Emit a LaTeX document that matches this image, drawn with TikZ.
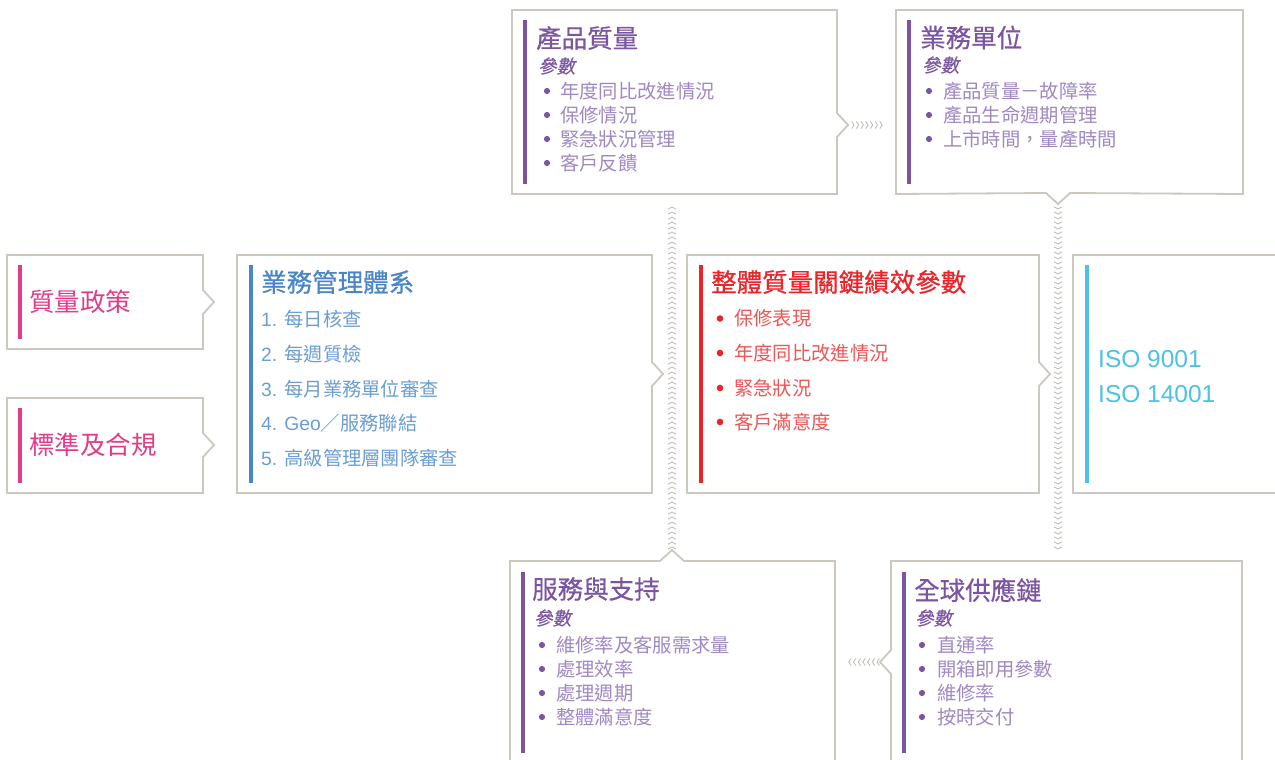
\documentclass[tikz,border=0pt]{standalone}
\usepackage{fontspec}
\setmainfont{Noto Sans CJK TC}
\newfontfamily\lat{Liberation Sans}
\newfontfamily\cjkmed[FakeBold=0.6]{Noto Sans CJK TC}
\newfontfamily\cjkit[FakeSlant=0.2,FakeBold=0.6]{Noto Sans CJK TC}
\usetikzlibrary{calc,decorations.markings}
\definecolor{bordc}{HTML}{CCC8C0}
\definecolor{chevc}{HTML}{BDB9B1}
\definecolor{purp}{HTML}{7C55A2}
\definecolor{purpl}{HTML}{A089C2}
\definecolor{blu}{HTML}{4985C7}
\definecolor{blul}{HTML}{6B9ED3}
\definecolor{rd}{HTML}{EC2327}
\definecolor{rdl}{HTML}{EF5656}
\definecolor{pnk}{HTML}{E03C88}
\definecolor{cyn}{HTML}{4CC2E2}
\tikzset{
  boxn/.style={inner sep=0pt, outer sep=0pt},
  frame/.style={draw=bordc, line width=1.8pt, fill=white, line join=miter},
  ttl/.style={anchor=west, inner sep=0pt, font=\fontsize{25.5}{27}\selectfont\cjkmed},
  sttl/.style={anchor=west, inner sep=0pt, font=\fontsize{25.5}{27}\selectfont},
  parm/.style={anchor=west, inner sep=0pt, text=purp, font=\fontsize{18.5}{20}\selectfont\cjkit},
  itm/.style={anchor=west, inner sep=0pt, font=\fontsize{19.3}{21}\selectfont},
  iso/.style={anchor=west, inner sep=0pt, text=cyn, font=\fontsize{24.5}{26}\selectfont\lat},
  chainV/.style={decorate, decoration={markings,
      mark=between positions 0 and 1 step 5pt with {\draw[chevc, line width=0.8pt] (-2.2pt,4pt) -- (0pt,0pt) -- (-2.2pt,-4pt);}}},
  chainH/.style={decorate, decoration={markings,
      mark=between positions 0 and 1 step 4.7pt with {\draw[chevc, line width=0.8pt] (-2.4pt,3.6pt) -- (0pt,0pt) -- (-2.4pt,-3.6pt);}}},
}
\begin{document}
\begin{tikzpicture}[x=1pt, y=-1pt]
\clip (0,0) rectangle (1275,760);
\fill[white] (0,0) rectangle (1275,760);

% ---------- box nodes ----------
\node[boxn, minimum width=325pt, minimum height=184pt] (pq) at (674.5,102) {};
\node[boxn, minimum width=347pt, minimum height=184pt] (bu) at (1069.5,102) {};
\node[boxn, minimum width=196pt, minimum height=94pt] (pol) at (105,302) {};
\node[boxn, minimum width=196pt, minimum height=95pt] (std) at (105,445.5) {};
\node[boxn, minimum width=415pt, minimum height=238pt] (bms) at (444.5,374) {};
\node[boxn, minimum width=352pt, minimum height=238pt] (kpi) at (863,374) {};
\node[boxn, minimum width=220pt, minimum height=238pt] (isob) at (1183,374) {};
\node[boxn, minimum width=325pt, minimum height=202pt] (ss) at (672.5,662) {};
\node[boxn, minimum width=351pt, minimum height=202pt] (gs) at (1066.5,662) {};

% notch tips
\coordinate (pqT) at (848,125);
\coordinate (buT) at (1058,204);
\coordinate (polT) at (214,302);
\coordinate (stdT) at (214,445);
\coordinate (bmsT) at (663,374);
\coordinate (kpiT) at (1050,374);
\coordinate (ssT) at (672,550);
\coordinate (gsT) at (880,662);

% ---------- frames ----------
\draw[frame] (pq.north west) -- (pq.north east) -- ($(pqT)+(-11,-12)$) -- (pqT) -- ($(pqT)+(-11,12)$) -- (pq.south east) -- (pq.south west) -- cycle;
\draw[frame] (bu.north west) -- (bu.north east) -- (bu.south east) -- ($(buT)+(12,-11)$) -- (buT) -- ($(buT)+(-12,-11)$) -- (bu.south west) -- cycle;
\draw[frame] (pol.north west) -- (pol.north east) -- ($(polT)+(-11,-12)$) -- (polT) -- ($(polT)+(-11,12)$) -- (pol.south east) -- (pol.south west) -- cycle;
\draw[frame] (std.north west) -- (std.north east) -- ($(stdT)+(-11,-12)$) -- (stdT) -- ($(stdT)+(-11,12)$) -- (std.south east) -- (std.south west) -- cycle;
\draw[frame] (bms.north west) -- (bms.north east) -- ($(bmsT)+(-11,-12)$) -- (bmsT) -- ($(bmsT)+(-11,12)$) -- (bms.south east) -- (bms.south west) -- cycle;
\draw[frame] (kpi.north west) -- (kpi.north east) -- ($(kpiT)+(-11,-12)$) -- (kpiT) -- ($(kpiT)+(-11,12)$) -- (kpi.south east) -- (kpi.south west) -- cycle;
\draw[frame] (isob.north west) rectangle (isob.south east);
\draw[frame] (ss.north west) -- ($(ssT)+(-12,11)$) -- (ssT) -- ($(ssT)+(12,11)$) -- (ss.north east) -- (ss.south east) -- (ss.south west) -- cycle;
\draw[frame] (gs.north west) -- (gs.north east) -- (gs.south east) -- (gs.south west) -- ($(gsT)+(11,12)$) -- (gsT) -- ($(gsT)+(11,-12)$) -- cycle;

% ---------- accent bars ----------
\fill[purp] ($(pq.north west)+(11,10)$) rectangle ($(pq.south west)+(15,-10)$);
\fill[purp] ($(bu.north west)+(11,10)$) rectangle ($(bu.south west)+(15,-10)$);
\fill[pnk] ($(pol.north west)+(11,10)$) rectangle ($(pol.south west)+(15,-10)$);
\fill[pnk] ($(std.north west)+(11,10)$) rectangle ($(std.south west)+(15,-10)$);
\fill[blu] ($(bms.north west)+(12,10)$) rectangle ($(bms.south west)+(16,-10)$);
\fill[rd] ($(kpi.north west)+(12,10)$) rectangle ($(kpi.south west)+(16,-10)$);
\fill[cyn] ($(isob.north west)+(12,10)$) rectangle ($(isob.south west)+(16,-10)$);
\fill[purp] ($(ss.north west)+(11,11)$) rectangle ($(ss.south west)+(15,-10)$);
\fill[purp] ($(gs.north west)+(11,11)$) rectangle ($(gs.south west)+(15,-10)$);

% ---------- connectors (chevron chains) ----------
\path[chainH] ($(pqT)+(6,0)$) -- ($(pqT -| bu.west)+(-10,0)$);
\path[chainV] ($(buT)+(0,5)$) -- ($(buT |- gs.north)+(0,-8)$);
\path[chainH] ($(gsT)+(-3,0)$) -- ($(gsT -| ss.east)+(10,0)$);
\path[chainV] ($(ssT)+(0,-3)$) -- ($(ssT |- pq.south)+(0,9)$);

% ---------- texts: 產品質量 ----------
\node[ttl, text=purp] (pqt) at (536,38) {產品質量};
\node[parm] (pqp) at (538,66) {參數};
\foreach \y/\t [count=\i] in {91/年度同比改進情況, 115/保修情況, 139/緊急狀況管理, 163/客戶反饋}{
  \fill[purp] (547,\y) circle (3.1pt);
  \node[itm, text=purpl] (pqi\i) at (560,\y) {\t};
}
% 業務單位
\node[ttl, text=purp] (but) at (920,37.5) {業務單位};
\node[parm] (bup) at (922,65) {參數};
\foreach \y/\t [count=\i] in {91/產品質量－故障率, 115/產品生命週期管理, 139/上市時間，量產時間}{
  \fill[purp] (929,\y) circle (3.1pt);
  \node[itm, text=purpl] (bui\i) at (943,\y) {\t};
}
% 質量政策 / 標準及合規
\node[sttl, text=pnk] (polt) at (29,302) {質量政策};
\node[sttl, text=pnk] (stdt) at (29,445) {標準及合規};
% 業務管理體系
\node[ttl, text=blu] (bmst) at (261,282) {業務管理體系};
\node[itm, text=blul] (bms1) at (261,319) {{\lat 1. }每日核查};
\node[itm, text=blul] (bms2) at (261,354) {{\lat 2. }每週質檢};
\node[itm, text=blul] (bms3) at (261,389) {{\lat 3. }每月業務單位審查};
\node[itm, text=blul] (bms4) at (261,423) {{\lat 4. Geo}／服務聯結};
\node[itm, text=blul] (bms5) at (261,458) {{\lat 5. }高級管理層團隊審查};
% 整體質量關鍵績效參數
\node[ttl, text=rd] (kpit) at (711,282) {整體質量關鍵績效參數};
\foreach \y/\t [count=\i] in {318.5/保修表現, 353/年度同比改進情況, 388/緊急狀況, 422/客戶滿意度}{
  \fill[rd] (720,\y) circle (3.3pt);
  \node[itm, text=rdl] (kpii\i) at (734,\y) {\t};
}
% ISO
\node[iso] (iso1) at (1098,359) {ISO 9001};
\node[iso] (iso2) at (1098,394) {ISO 14001};
% 服務與支持
\node[ttl, text=purp] (sst) at (532,589) {服務與支持};
\node[parm] (ssp) at (534,618) {參數};
\foreach \y/\t [count=\i] in {645/維修率及客服需求量, 669/處理效率, 693/處理週期, 717/整體滿意度}{
  \fill[purp] (542,\y) circle (3.1pt);
  \node[itm, text=purpl] (ssi\i) at (556,\y) {\t};
}
% 全球供應鏈
\node[ttl, text=purp] (gst) at (914,590) {全球供應鏈};
\node[parm] (gsp) at (915,618) {參數};
\foreach \y/\t [count=\i] in {645/直通率, 669/開箱即用參數, 693/維修率, 717/按時交付}{
  \fill[purp] (922,\y) circle (3.1pt);
  \node[itm, text=purpl] (gsi\i) at (937,\y) {\t};
}
\end{tikzpicture}
\end{document}
